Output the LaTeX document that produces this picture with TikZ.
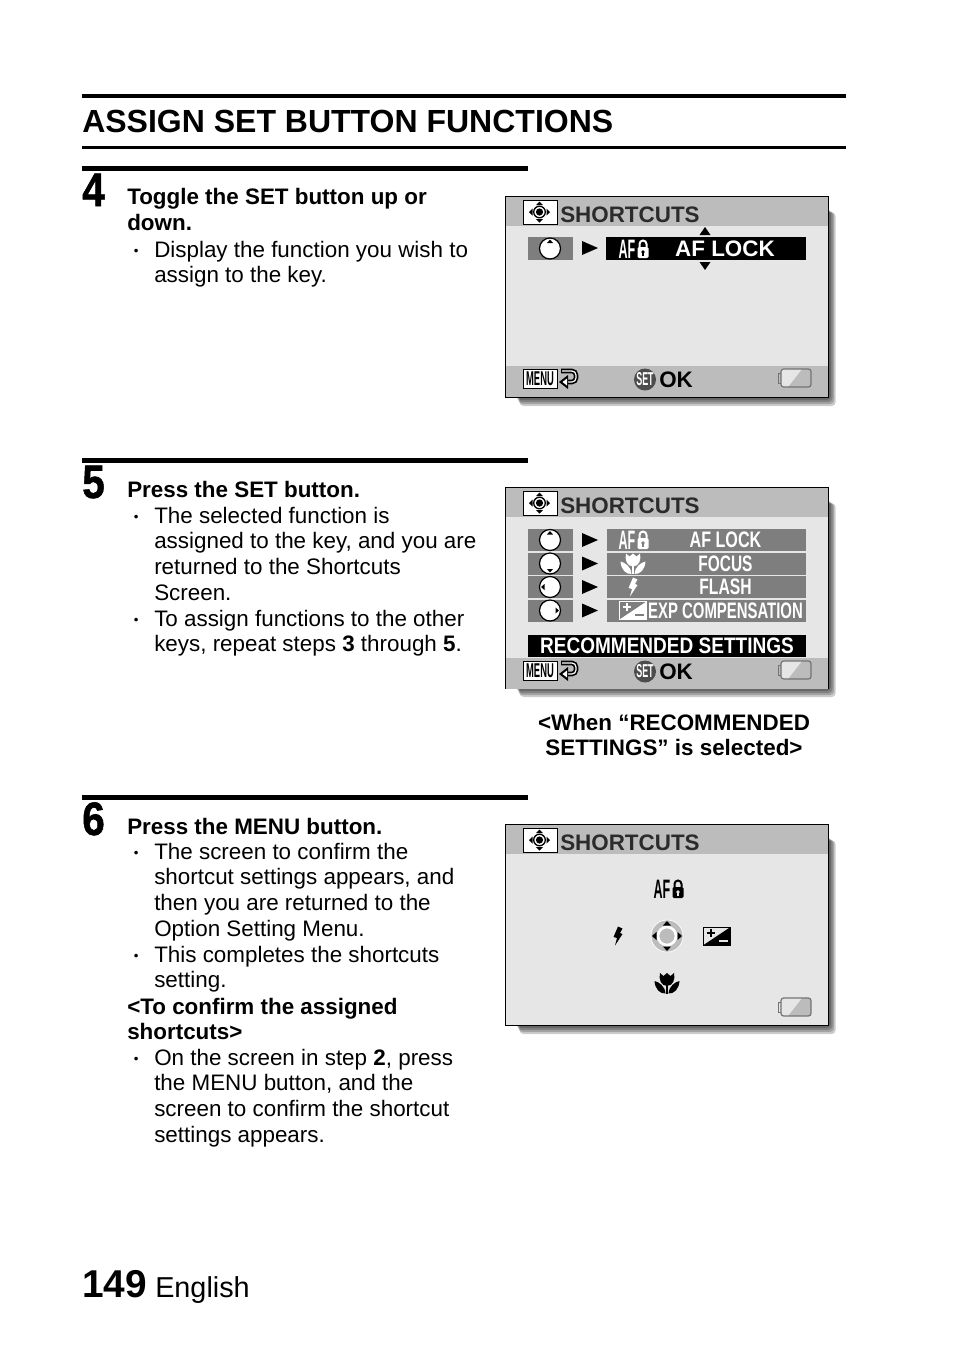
\documentclass[tikz,border=0pt]{standalone}
\usepackage{fontspec}
\setmainfont{Liberation Sans}
\newfontfamily\heavyfont[BoldFeatures={FakeBold=1.2}]{Liberation Sans}
\definecolor{band}{HTML}{BCBCBC}
\definecolor{panel}{HTML}{E6E6E6}
\definecolor{rowgray}{HTML}{7E7E7E}
\definecolor{inkgray}{HTML}{2B2B2B}
\newcommand{\squeeze}[2]{\scalebox{#1}[1]{#2}}
\begin{document}
\begin{tikzpicture}[
            x=.75pt, y=-.75pt,
            body/.style={anchor=north west, inner sep=0pt, align=left, font=\fontsize{16.8}{19.3}\selectfont, execute at begin node=\strut},
            headline/.style={body, font=\fontsize{16.8}{19.3}\selectfont\bfseries},
            bulletdot/.style={anchor=north west, inner sep=0pt, font=\fontsize{10}{19.3}\selectfont, execute at begin node=\strut},
            stepno/.style={anchor=base west, inner sep=0pt, font=\heavyfont\fontsize{32}{32}\selectfont\bfseries},
            lcd/.style={inner sep=0pt, font=\fontsize{16.8}{18}\selectfont\bfseries},
            pics/target/.style={code={
                \fill[white] (18,4) rectangle (52,28);
                \draw[line width=.7pt] (18,4) rectangle (52,28);
                \draw[line width=1pt, fill=white] (34.5,16) circle (5.8);
                \fill (34.5,16) circle (3.6);
                \fill (34.5,5.5) -- (38,9) -- (31,9) -- cycle;
                \fill (34.5,26.5) -- (38,23) -- (31,23) -- cycle;
                \fill (24,16) -- (27.5,12.5) -- (27.5,19.5) -- cycle;
                \fill (45,16) -- (41.5,12.5) -- (41.5,19.5) -- cycle;
            }},
            pics/screen/.style={code={
                \foreach \d in {1,3,5,7,9}
                    \fill[black, opacity=.2, rounded corners=3] (10+\d*.5,12+\d*.5) rectangle (323.5+\d*.8,201+\d);
                \fill[panel] (0,0) rectangle (323.5,201);
                \fill[band] (0,0) rectangle (323.5,30);
                \draw[line width=.7pt] (0,0) rectangle (323.5,201);
                \pic at (0,0) {target};
                \node[lcd, text=inkgray, anchor=base west] (-title) at (55,26.5) {SHORTCUTS};
            }},
            pics/footer/.style={code={
                \fill[band] (.5,0) rectangle (323,30.5);
                \fill[white] (18,3) rectangle (52,22);
                \draw[line width=.7pt] (18,3) rectangle (52,22);
                \node[inner sep=0pt, font=\fontsize{15}{15}\selectfont\bfseries] (-menu) at (35,12.5) {\squeeze{.47}{MENU}};
                \draw[line width=3.4pt, rounded corners=3] (56,5) -- (71,5) -- (71,16) -- (61,16);
                \draw[line width=.9pt, white, rounded corners=3] (57,5) -- (71,5) -- (71,16) -- (61,16);
                \fill (54,16) -- (63,9) -- (63,23) -- cycle;
                \fill[white] (57.5,16) -- (62,12.5) -- (62,19.5) -- cycle;
                \fill[black!70] (140,13.5) circle (11);
                \node[inner sep=0pt, text=white, font=\fontsize{14}{14}\selectfont\bfseries] (-set) at (140,13.5) {\squeeze{.48}{SET}};
                \node[lcd, anchor=base west] (-ok) at (154,21) {OK};
            }},
            pics/battery/.style={code={
                \fill[band] (-14,-9) rectangle (16,9);
                \fill[panel] (-14,-9) -- (7,-9) -- (-7,9) -- (-14,9) -- cycle;
                \draw[black!55, line width=.9pt, rounded corners=2] (-14,-9) rectangle (16,9);
                \draw[black!55, line width=.7pt] (-14,-5) -- (-17,-5) -- (-17,5) -- (-14,5);
            }},
            pics/dial/.style={code={
                \draw[line width=.9pt, fill=white] (0,0) circle (10.5);
                \fill (0,-9) -- (3,-5.5) -- (-3,-5.5) -- cycle;
            }},
            pics/aflock/.style n args={2}{code={
                \node[inner sep=0pt, text=#1, font=\fontsize{20}{20}\selectfont\bfseries] (-af) at (-7,0) {\squeeze{.47}{AF}};
                \draw[#1, line width=1.5pt] (5.5,-2) -- (5.5,-5) arc (180:360:3.5) -- (12.5,-2);
                \fill[#1, rounded corners=1] (3.5,-2) rectangle (14.5,9);
                \fill[#2] (9,3) circle (1.8);
                \fill[#2] (8.3,3) rectangle (9.7,7);
            }},
            pics/tulip/.style={code={
                \fill[#1] (-7,-10) -- (-3.5,-7) -- (0,-10) -- (3.5,-7) -- (7,-10) .. controls (8.5,-4) and (6,3) .. (0,3) .. controls (-6,3) and (-8.5,-4) .. (-7,-10) -- cycle;
                \fill[#1] (-12.5,-2) .. controls (-8,-1) and (-2,3) .. (-1.5,10.5) .. controls (-7,11) and (-12,6) .. (-12.5,-2) -- cycle;
                \fill[#1] (12.5,-2) .. controls (8,-1) and (2,3) .. (1.5,10.5) .. controls (7,11) and (12,6) .. (12.5,-2) -- cycle;
                \fill[#1] (-1.2,2) rectangle (1.2,10.5);
            }},
            pics/bolt/.style={code={
                \fill[#1] (0,-9.5) -- (4.5,-7.5) -- (2,-3) -- (4.5,-2) -- (-3,9.5) -- (-1,2) -- (-4.5,1) -- cycle;
            }},
            pics/expbox/.style n args={2}{code={
                \fill[#2] (-13.5,-9) rectangle (13.5,9);
                \fill[#1] (13.5,-9) -- (13.5,9) -- (-13.5,9) -- cycle;
                \draw[#1, line width=.7pt] (-13.5,-9) rectangle (13.5,9);
                \draw[#1, line width=1.5pt] (-10.5,-3.5) -- (-2.5,-3.5) (-6.5,-7.5) -- (-6.5,.5);
                \draw[#2, line width=1.5pt] (2,4.5) -- (11,4.5);
            }}
            ]
            \useasboundingbox (0,0) rectangle (954,1350);
            % page title
            \fill (82,94) rectangle (846,97.5);
            \node[anchor=base west, inner sep=0pt, font=\fontsize{24}{26}\selectfont\bfseries] (title) at (82,132) {ASSIGN SET BUTTON FUNCTIONS};
            \fill (82,146) rectangle (846,148.5);
            % step 4
            \fill (82,166) rectangle (528,170.5);
            \node[stepno] (four) at (82,206) {\scalebox{.95}[1.1]{4}};
            \node[headline] (fourhead) at (127,188) {Toggle the SET button up or\\down.};
            \node[bulletdot] (fourdot) at (133.5,237.5) {•};
            \node[body] (fourtext) at (154,240.5) {Display the function you wish to\\assign to the key.};
            \pic (one) at (505,196) {screen};
            \pic at (505,366) {footer};
            \pic at (795,378) {battery};
            \fill[rowgray] (528,237) rectangle (573,260);
            \pic at (550,248.5) {dial};
            \fill (582,241) -- (598,248) -- (582,255) -- cycle;
            \fill (606,237) rectangle (806,260);
            \pic at (634,249) {aflock={white}{black}};
            \node[lcd, text=white, anchor=base] (onelabel) at (725,256) {AF LOCK};
            \fill (705,227) -- (710.5,235) -- (699.5,235) -- cycle;
            \fill (705,270) -- (710.5,262) -- (699.5,262) -- cycle;
            % step 5
            \fill (82,458) rectangle (528,462.5);
            \node[stepno] (five) at (82,498) {\scalebox{.95}[1.1]{5}};
            \node[headline] (fivehead) at (127,479) {Press the SET button.};
            \node[bulletdot] (fivedota) at (133.5,503.5) {•};
            \node[body] (fivetexta) at (154,506.5) {The selected function is\\assigned to the key, and you are\\returned to the Shortcuts\\Screen.};
            \node[bulletdot] (fivedotb) at (133.5,606.5) {•};
            \node[body] (fivetextb) at (154,609.5) {To assign functions to the other\\keys, repeat steps \textbf{3} through \textbf{5}.};
            \pic (two) at (505,487) {screen};
            \pic at (505,658) {footer};
            \pic at (795,670) {battery};
            \foreach \rowy/\rowturn/\rowname/\rowsq/\rowid in {
                    540/0/AF LOCK/.72/a, 563.5/180/FOCUS/.69/b,
                    587/90/FLASH/.70/c, 610.5/-90/EXP COMPENSATION/.666/d} {
                \fill[rowgray] (528,\rowy-11) rectangle (573,\rowy+11);
                \pic[rotate=\rowturn] at (550,\rowy) {dial};
                \fill (582,\rowy-7) -- (598,\rowy) -- (582,\rowy+7) -- cycle;
                \fill[rowgray] (607,\rowy-11) rectangle (806,\rowy+11);
                \node[inner sep=0pt, text=white, font=\fontsize{16.8}{18}\selectfont\bfseries] (row\rowid) at (725.5,\rowy) {\squeeze{\rowsq}{\rowname}};
            }
            \pic at (634,540) {aflock={white}{rowgray}};
            \pic at (633,563.5) {tulip=white};
            \pic at (633,587) {bolt=white};
            \pic at (633,610.5) {expbox={white}{rowgray}};
            \node[lcd, fill=black, text=white, minimum width=278*.75pt, minimum height=22*.75pt] (recommended) at (667,646) {\squeeze{.85}{RECOMMENDED SETTINGS}};
            \node[inner sep=0pt, align=center, font=\fontsize{16.8}{19.3}\selectfont\bfseries] (caption) at (674,735) {<When “RECOMMENDED\\SETTINGS” is selected>};
            % step 6
            \fill (82,795) rectangle (528,799.5);
            \node[stepno] (six) at (82,835) {\scalebox{.95}[1.1]{6}};
            \node[headline] (sixhead) at (127,816) {Press the MENU button.};
            \node[bulletdot] (sixdota) at (133.5,839.5) {•};
            \node[body] (sixtexta) at (154,842.5) {The screen to confirm the\\shortcut settings appears, and\\then you are returned to the\\Option Setting Menu.};
            \node[bulletdot] (sixdotb) at (133.5,942.5) {•};
            \node[body] (sixtextb) at (154,945.5) {This completes the shortcuts\\setting.};
            \node[headline] (sixconfirm) at (127,997.5) {<To confirm the assigned\\shortcuts>};
            \node[bulletdot] (sixdotc) at (133.5,1045.5) {•};
            \node[body] (sixtextc) at (154,1048.5) {On the screen in step \textbf{2}, press\\the MENU button, and the\\screen to confirm the shortcut\\settings appears.};
            \pic (three) at (505,824) {screen};
            \pic at (795,1007) {battery};
            \pic at (669,889) {aflock={black}{panel}};
            \pic at (618,936) {bolt=black};
            \fill[band] (667,936) circle (16);
            \draw[white, line width=.5pt] (667,936) circle (16);
            \draw[white, line width=2pt] (667,936) circle (9);
            \fill (667,921) -- (671,925.5) -- (663,925.5) -- cycle;
            \fill (667,951) -- (671,946.5) -- (663,946.5) -- cycle;
            \fill (652,936) -- (656.5,932) -- (656.5,940) -- cycle;
            \fill (682,936) -- (677.5,932) -- (677.5,940) -- cycle;
            \pic at (717,936) {expbox={black}{panel}};
            \pic at (667,983) {tulip=black};
            % page number
            \node[anchor=base west, inner sep=0pt, font=\fontsize{29.1}{32}\selectfont\bfseries] (pageno) at (82,1297) {149};
            \node[anchor=base west, inner sep=0pt, font=\fontsize{21.6}{24}\selectfont] (language) at (155,1297) {English};
        \end{tikzpicture}
\end{document}
